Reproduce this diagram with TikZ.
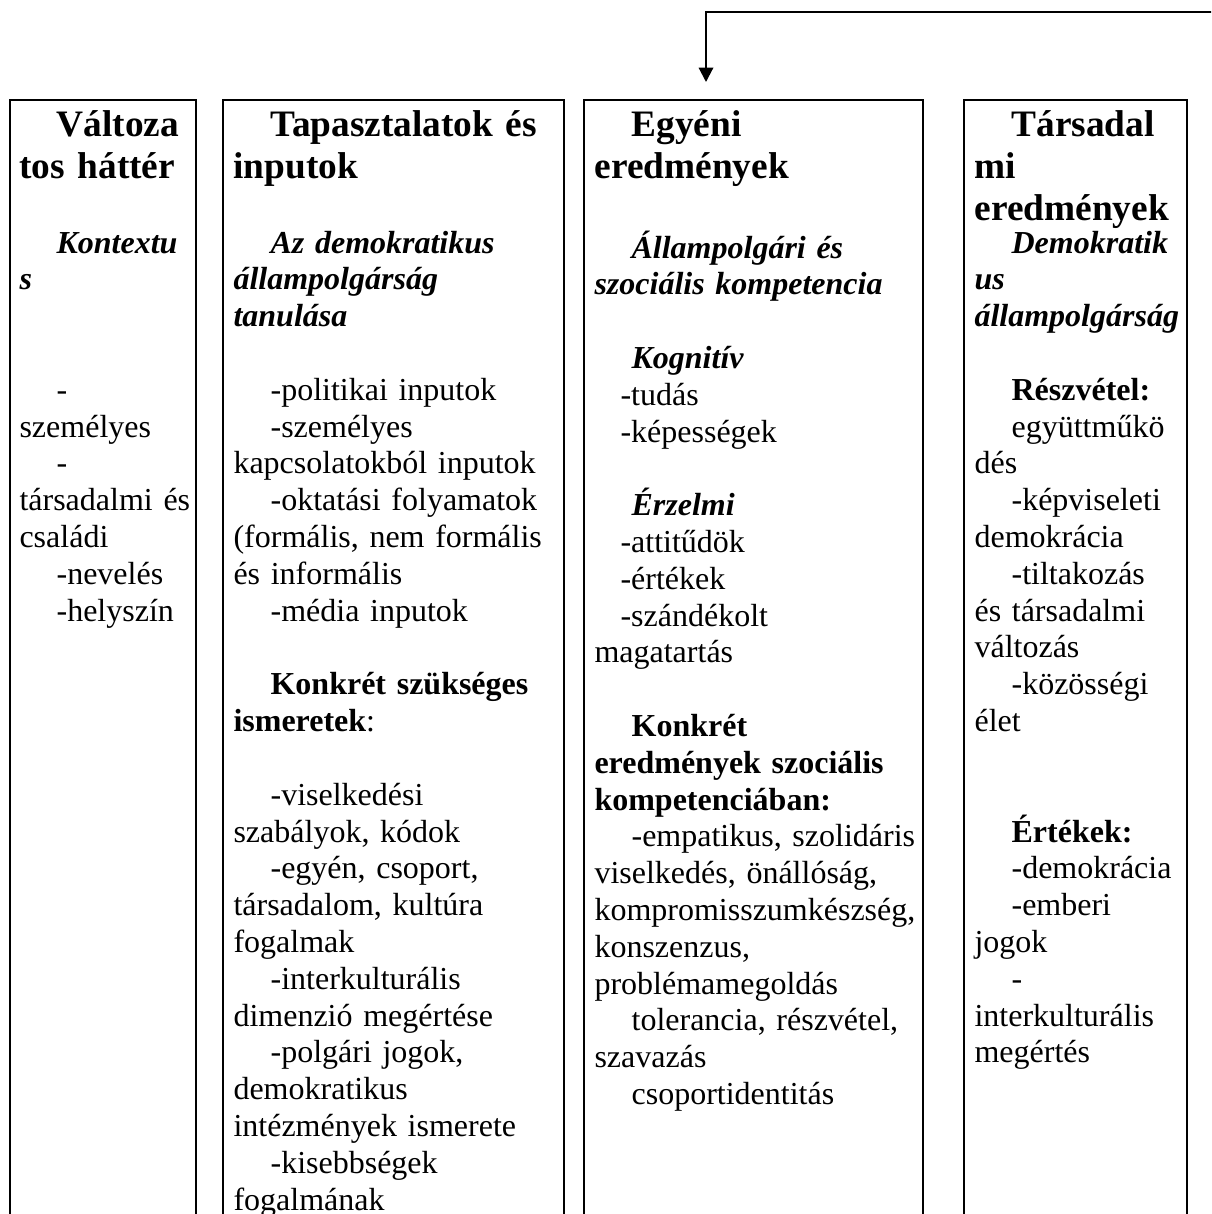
\documentclass[tikz,border=0pt]{standalone}
\usepackage{fontspec}
\setmainfont{Liberation Serif}
\usetikzlibrary{arrows.meta}
\newlength\ind \setlength\ind{13.9pt}
\newlength\indb \setlength\indb{9.75pt}
\tikzset{
  boxline/.style={line width=0.8pt},
  txt/.style={anchor=base west, inner sep=0pt, text width=170pt, align=left,
    font=\fontsize{12}{13.8}\selectfont},
  head/.style={txt, font=\fontsize{14}{15.64}\selectfont\bfseries},
  subh/.style={txt, font=\fontsize{12}{13.8}\selectfont\bfseries\itshape},
  bld/.style={txt, font=\fontsize{12}{13.8}\selectfont\bfseries},
  feedback/.style={line width=0.8pt, -{Triangle[width=5.4pt,length=5.4pt]}},
}
\begin{document}
\begin{tikzpicture}[x=0.375pt, y=-0.375pt]
\useasboundingbox (0,0) rectangle (1211,1214);
\clip (0,0) rectangle (1211,1214);
% column boxes (open at the bottom)
\draw[boxline] (10,1230) |- (196,100) -- (196,1230);
\draw[boxline] (223,1230) |- (564,100) -- (564,1230);
\draw[boxline] (584,1230) |- (923,100) -- (923,1230);
\draw[boxline] (964,1230) |- (1187,100) -- (1187,1230);
% feedback arrow
\coordinate (fbstart) at (1225,12);
\coordinate (fbtip) at (706,82);
\draw[feedback] (fbstart) -| (fbtip);

% column 1
\node[head] (c1h) at (19,136.7) {\hspace*{\ind}Változa\\tos háttér};
\node[subh] (c1s) at (19,253) {\hspace*{\ind}Kontextu\\s};
\node[txt] (c1b) at (19,400.2) {\hspace*{\ind}-\\személyes\\\hspace*{\ind}-\\társadalmi és\\családi\\\hspace*{\ind}-nevelés\\\hspace*{\ind}-helyszín};

% column 2
\node[head] (c2h) at (233,136.7) {\hspace*{\ind}Tapasztalatok és\\inputok};
\node[subh] (c2s) at (233,253) {\hspace*{\ind}Az demokratikus\\állampolgárság\\tanulása};
\node[txt] (c2b) at (233,400.2) {\hspace*{\ind}-politikai inputok\\\hspace*{\ind}-személyes\\kapcsolatokból inputok\\\hspace*{\ind}-oktatási folyamatok\\(formális, nem formális\\és informális\\\hspace*{\ind}-média inputok};
\node[bld] (c2k) at (233,694.6) {\hspace*{\ind}Konkrét szükséges\\ismeretek{\mdseries:}};
\node[txt] (c2c) at (233,805.2) {\hspace*{\ind}-viselkedési\\szabályok, kódok\\\hspace*{\ind}-egyén, csoport,\\társadalom, kultúra\\fogalmak\\\hspace*{\ind}-interkulturális\\dimenzió megértése\\\hspace*{\ind}-polgári jogok,\\demokratikus\\intézmények ismerete\\\hspace*{\ind}-kisebbségek\\fogalmának};

% column 3
\node[head] (c3h) at (594,136.7) {\hspace*{\ind}Egyéni\\eredmények};
\node[subh] (c3s) at (594,258) {\hspace*{\ind}Állampolgári és\\szociális kompetencia};
\node[subh] (c3k) at (594,368.4) {\hspace*{\ind}Kognitív};
\node[txt] (c3kb) at (594,405.2) {\hspace*{\indb}-tudás\\\hspace*{\indb}-képességek};
\node[subh] (c3e) at (594,515.6) {\hspace*{\ind}Érzelmi};
\node[txt] (c3eb) at (594,552.4) {\hspace*{\indb}-attitűdök\\\hspace*{\indb}-értékek\\\hspace*{\indb}-szándékolt\\magatartás};
\node[bld] (c3c) at (594,736.4) {\hspace*{\ind}Konkrét\\eredmények szociális\\kompetenciában:};
\node[txt] (c3cb) at (594,846.8) {\hspace*{\ind}-empatikus, szolidáris\\viselkedés, önállóság,\\kompromisszumkészség,\\konszenzus,\\problémamegoldás\\\hspace*{\ind}tolerancia, részvétel,\\szavazás\\\hspace*{\ind}csoportidentitás};

% column 4
\node[head] (c4h) at (974,136.7) {\hspace*{\ind}Társadal\\mi\\eredmények};
\node[subh] (c4s) at (974,253) {\hspace*{\ind}Demokratik\\us\\állampolgárság};
\node[bld] (c4r) at (974,400.2) {\hspace*{\ind}Részvétel:};
\node[txt] (c4rb) at (974,437) {\hspace*{\ind}együttműkö\\dés\\\hspace*{\ind}-képviseleti\\demokrácia\\\hspace*{\ind}-tiltakozás\\és társadalmi\\változás\\\hspace*{\ind}-közösségi\\élet};
\node[bld] (c4v) at (974,842) {\hspace*{\ind}Értékek:};
\node[txt] (c4vb) at (974,878.8) {\hspace*{\ind}-demokrácia\\\hspace*{\ind}-emberi\\jogok\\\hspace*{\ind}-\\interkulturális\\megértés};
\end{tikzpicture}
\end{document}
